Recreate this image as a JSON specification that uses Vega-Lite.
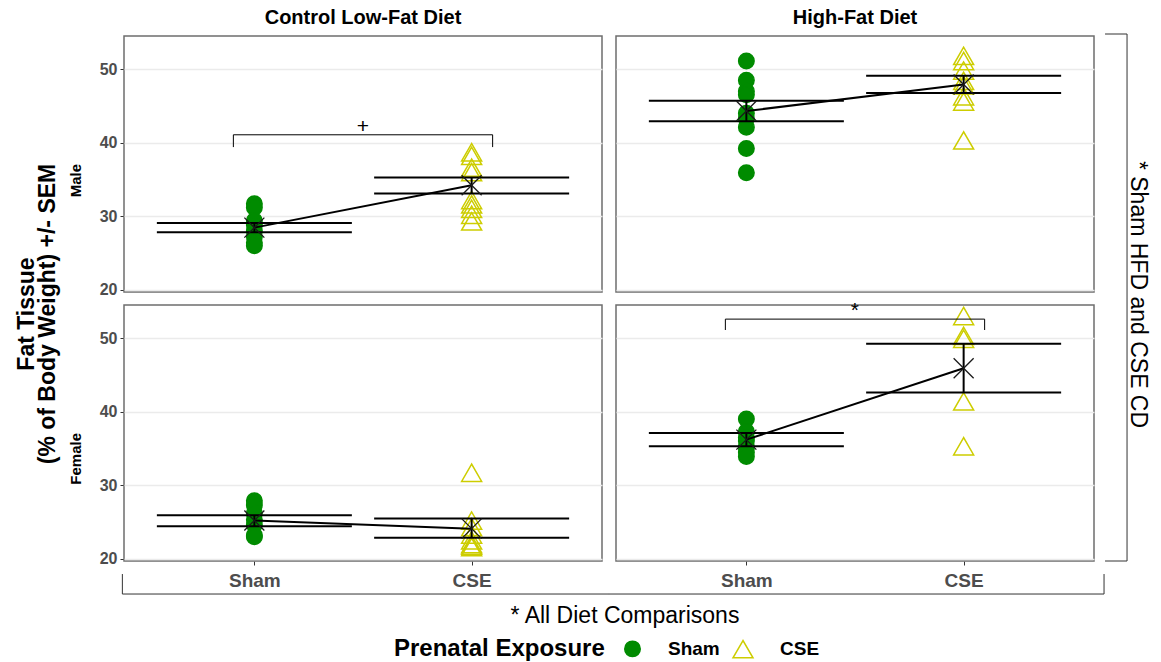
{
  "$schema": "https://vega.github.io/schema/vega-lite/v6.json",
  "padding": {"left": 15, "top": 8, "right": 5, "bottom": 5},
  "background": "white",
  "bounds": "flush",
  "data": {"values": [
    {"kind":"pt","sex":"Male","diet":"Control Low-Fat Diet","exposure":"Sham","value":31.7},
    {"kind":"pt","sex":"Male","diet":"Control Low-Fat Diet","exposure":"Sham","value":31.2},
    {"kind":"pt","sex":"Male","diet":"Control Low-Fat Diet","exposure":"Sham","value":29.4},
    {"kind":"pt","sex":"Male","diet":"Control Low-Fat Diet","exposure":"Sham","value":28.8},
    {"kind":"pt","sex":"Male","diet":"Control Low-Fat Diet","exposure":"Sham","value":28.0},
    {"kind":"pt","sex":"Male","diet":"Control Low-Fat Diet","exposure":"Sham","value":27.2},
    {"kind":"pt","sex":"Male","diet":"Control Low-Fat Diet","exposure":"Sham","value":26.4},
    {"kind":"pt","sex":"Male","diet":"Control Low-Fat Diet","exposure":"Sham","value":26.0},
    {"kind":"pt","sex":"Male","diet":"Control Low-Fat Diet","exposure":"CSE","value":38.7},
    {"kind":"pt","sex":"Male","diet":"Control Low-Fat Diet","exposure":"CSE","value":38.2},
    {"kind":"pt","sex":"Male","diet":"Control Low-Fat Diet","exposure":"CSE","value":36.6},
    {"kind":"pt","sex":"Male","diet":"Control Low-Fat Diet","exposure":"CSE","value":36.0},
    {"kind":"pt","sex":"Male","diet":"Control Low-Fat Diet","exposure":"CSE","value":32.2},
    {"kind":"pt","sex":"Male","diet":"Control Low-Fat Diet","exposure":"CSE","value":31.6},
    {"kind":"pt","sex":"Male","diet":"Control Low-Fat Diet","exposure":"CSE","value":31.0},
    {"kind":"pt","sex":"Male","diet":"Control Low-Fat Diet","exposure":"CSE","value":30.2},
    {"kind":"pt","sex":"Male","diet":"Control Low-Fat Diet","exposure":"CSE","value":29.3},
    {"kind":"pt","sex":"Male","diet":"High-Fat Diet","exposure":"Sham","value":51.1},
    {"kind":"pt","sex":"Male","diet":"High-Fat Diet","exposure":"Sham","value":48.5},
    {"kind":"pt","sex":"Male","diet":"High-Fat Diet","exposure":"Sham","value":47.0},
    {"kind":"pt","sex":"Male","diet":"High-Fat Diet","exposure":"Sham","value":46.5},
    {"kind":"pt","sex":"Male","diet":"High-Fat Diet","exposure":"Sham","value":44.0},
    {"kind":"pt","sex":"Male","diet":"High-Fat Diet","exposure":"Sham","value":43.3},
    {"kind":"pt","sex":"Male","diet":"High-Fat Diet","exposure":"Sham","value":42.1},
    {"kind":"pt","sex":"Male","diet":"High-Fat Diet","exposure":"Sham","value":39.2},
    {"kind":"pt","sex":"Male","diet":"High-Fat Diet","exposure":"Sham","value":35.9},
    {"kind":"pt","sex":"Male","diet":"High-Fat Diet","exposure":"CSE","value":51.8},
    {"kind":"pt","sex":"Male","diet":"High-Fat Diet","exposure":"CSE","value":51.1},
    {"kind":"pt","sex":"Male","diet":"High-Fat Diet","exposure":"CSE","value":49.8},
    {"kind":"pt","sex":"Male","diet":"High-Fat Diet","exposure":"CSE","value":48.4},
    {"kind":"pt","sex":"Male","diet":"High-Fat Diet","exposure":"CSE","value":47.8},
    {"kind":"pt","sex":"Male","diet":"High-Fat Diet","exposure":"CSE","value":46.3},
    {"kind":"pt","sex":"Male","diet":"High-Fat Diet","exposure":"CSE","value":45.6},
    {"kind":"pt","sex":"Male","diet":"High-Fat Diet","exposure":"CSE","value":40.3},
    {"kind":"pt","sex":"Female","diet":"Control Low-Fat Diet","exposure":"Sham","value":27.9},
    {"kind":"pt","sex":"Female","diet":"Control Low-Fat Diet","exposure":"Sham","value":27.3},
    {"kind":"pt","sex":"Female","diet":"Control Low-Fat Diet","exposure":"Sham","value":26.2},
    {"kind":"pt","sex":"Female","diet":"Control Low-Fat Diet","exposure":"Sham","value":25.3},
    {"kind":"pt","sex":"Female","diet":"Control Low-Fat Diet","exposure":"Sham","value":24.6},
    {"kind":"pt","sex":"Female","diet":"Control Low-Fat Diet","exposure":"Sham","value":23.2},
    {"kind":"pt","sex":"Female","diet":"Control Low-Fat Diet","exposure":"Sham","value":23.0},
    {"kind":"pt","sex":"Female","diet":"Control Low-Fat Diet","exposure":"CSE","value":31.7},
    {"kind":"pt","sex":"Female","diet":"Control Low-Fat Diet","exposure":"CSE","value":25.2},
    {"kind":"pt","sex":"Female","diet":"Control Low-Fat Diet","exposure":"CSE","value":24.3},
    {"kind":"pt","sex":"Female","diet":"Control Low-Fat Diet","exposure":"CSE","value":23.3},
    {"kind":"pt","sex":"Female","diet":"Control Low-Fat Diet","exposure":"CSE","value":22.5},
    {"kind":"pt","sex":"Female","diet":"Control Low-Fat Diet","exposure":"CSE","value":22.0},
    {"kind":"pt","sex":"Female","diet":"Control Low-Fat Diet","exposure":"CSE","value":21.8},
    {"kind":"pt","sex":"Female","diet":"Control Low-Fat Diet","exposure":"CSE","value":21.6},
    {"kind":"pt","sex":"Female","diet":"High-Fat Diet","exposure":"Sham","value":39.0},
    {"kind":"pt","sex":"Female","diet":"High-Fat Diet","exposure":"Sham","value":37.3},
    {"kind":"pt","sex":"Female","diet":"High-Fat Diet","exposure":"Sham","value":36.5},
    {"kind":"pt","sex":"Female","diet":"High-Fat Diet","exposure":"Sham","value":36.0},
    {"kind":"pt","sex":"Female","diet":"High-Fat Diet","exposure":"Sham","value":35.2},
    {"kind":"pt","sex":"Female","diet":"High-Fat Diet","exposure":"Sham","value":34.5},
    {"kind":"pt","sex":"Female","diet":"High-Fat Diet","exposure":"Sham","value":33.9},
    {"kind":"pt","sex":"Female","diet":"High-Fat Diet","exposure":"CSE","value":53.0},
    {"kind":"pt","sex":"Female","diet":"High-Fat Diet","exposure":"CSE","value":50.3},
    {"kind":"pt","sex":"Female","diet":"High-Fat Diet","exposure":"CSE","value":49.9},
    {"kind":"pt","sex":"Female","diet":"High-Fat Diet","exposure":"CSE","value":41.4},
    {"kind":"pt","sex":"Female","diet":"High-Fat Diet","exposure":"CSE","value":35.3},
    {"kind":"sum","sex":"Male","diet":"Control Low-Fat Diet","exposure":"Sham","mean":28.45,"lo":27.81,"hi":29.07},
    {"kind":"sum","sex":"Male","diet":"Control Low-Fat Diet","exposure":"CSE","mean":34.2,"lo":33.09,"hi":35.25},
    {"kind":"sum","sex":"Male","diet":"High-Fat Diet","exposure":"Sham","mean":44.3,"lo":42.91,"hi":45.71},
    {"kind":"sum","sex":"Male","diet":"High-Fat Diet","exposure":"CSE","mean":47.9,"lo":46.75,"hi":49.09},
    {"kind":"sum","sex":"Female","diet":"Control Low-Fat Diet","exposure":"Sham","mean":25.2,"lo":24.44,"hi":25.93},
    {"kind":"sum","sex":"Female","diet":"Control Low-Fat Diet","exposure":"CSE","mean":24.1,"lo":22.86,"hi":25.48},
    {"kind":"sum","sex":"Female","diet":"High-Fat Diet","exposure":"Sham","mean":36.2,"lo":35.29,"hi":37.11},
    {"kind":"sum","sex":"Female","diet":"High-Fat Diet","exposure":"CSE","mean":45.9,"lo":42.62,"hi":49.23},
    {"kind":"sig","sex":"Male","diet":"Control Low-Fat Diet","ybar":41.07,"yleg":39.4,"label":"+"},
    {"kind":"sig","sex":"Female","diet":"High-Fat Diet","ybar":52.58,"yleg":51.1,"label":"*"},
    {"kind":"frame","sex":"Female","diet":"Control Low-Fat Diet","ytop":17.93,"ybot":15.21},
    {"kind":"frame","sex":"Female","diet":"High-Fat Diet","ytop":17.93,"ybot":15.21},
    {"kind":"side","sex":"Male","diet":"High-Fat Diet","ytop":54.77,"ybot":18.75},
    {"kind":"side","sex":"Female","diet":"High-Fat Diet","ytop":55.32,"ybot":19.7}
  ]},
  "facet": {
    "row": {"field": "sex", "type": "nominal", "sort": ["Male", "Female"],
      "title": ["Fat Tissue", "(% of Body Weight) +/- SEM"],
      "header": {"labelOrient": "left", "labelAngle": -90, "labelAlign": "right", "labelFontSize": 15, "labelFontWeight": "bold", "labelColor": "black", "labelPadding": 8,
        "titleOrient": "left", "titleAngle": -90, "titleFontSize": 23, "titleFontWeight": "bold", "titleColor": "black", "titleLineHeight": 21, "titlePadding": -24}},
    "column": {"field": "diet", "type": "nominal", "sort": ["Control Low-Fat Diet", "High-Fat Diet"],
      "title": "* All Diet Comparisons",
      "header": {"labelOrient": "top", "labelFontSize": 20, "labelFontWeight": "bold", "labelColor": "black", "labelPadding": 8,
        "titleOrient": "bottom", "titleFontSize": 23, "titleFontWeight": "normal", "titleColor": "black", "titlePadding": 5}}
  },
  "spacing": {"row": 13, "column": 14},
  "title": {"text": "* Sham HFD and CSE CD", "orient": "right", "angle": 90, "anchor": "middle", "fontSize": 23, "fontWeight": "normal", "color": "black", "offset": -2, "dx": -40},
  "spec": {
    "width": 478,
    "height": 256,
    "encoding": {
      "x": {"field": "exposure", "type": "nominal", "scale": {"type": "point", "padding": 0.6, "domain": ["Sham", "CSE"]}, "title": null,
        "axis": {"title": null, "labelFontSize": 19, "labelFontWeight": "bold", "labelColor": "#4D4D4D", "labelAngle": 0, "grid": false, "ticks": true, "tickSize": 4, "tickColor": "#333333", "domain": false, "labelPadding": 6}}
    },
    "layer": [
      {
        "transform": [{"filter": "datum.kind === 'pt'"}],
        "mark": {"type": "point", "filled": false, "strokeWidth": 1.5, "opacity": 1},
        "encoding": {
          "y": {"field": "value", "type": "quantitative", "scale": {"domain": [19.7, 54.5], "nice": false, "zero": false}, "title": null,
            "axis": {"title": null, "values": [20, 30, 40, 50], "labelFontSize": 16, "labelFontWeight": "bold", "labelColor": "#4D4D4D", "grid": true, "gridColor": "#EBEBEB", "gridWidth": 1.5, "tickSize": 4, "tickColor": "#333333", "domain": false, "labelPadding": 3}},
          "stroke": {"field": "exposure", "type": "nominal", "scale": {"domain": ["Sham", "CSE"], "range": ["#008B00", "#CDCD00"]}, "title": "Prenatal Exposure"},
          "fill": {"field": "exposure", "type": "nominal", "scale": {"domain": ["Sham", "CSE"], "range": ["#008B00", "transparent"]}, "title": "Prenatal Exposure"},
          "shape": {"field": "exposure", "type": "nominal", "scale": {"domain": ["Sham", "CSE"], "range": ["circle", "triangle-up"]}, "title": "Prenatal Exposure"},
          "size": {"field": "exposure", "type": "nominal", "scale": {"domain": ["Sham", "CSE"], "range": [240, 400]}, "title": "Prenatal Exposure"}
        }
      },
      {
        "transform": [{"filter": "datum.kind === 'sum'"}],
        "mark": {"type": "line", "color": "black", "strokeWidth": 2},
        "encoding": {"y": {"field": "mean", "type": "quantitative"}}
      },
      {
        "transform": [{"filter": "datum.kind === 'sum'"}],
        "mark": {"type": "rule", "color": "black", "strokeWidth": 2},
        "encoding": {"y": {"field": "lo", "type": "quantitative"}, "y2": {"field": "hi"}}
      },
      {
        "transform": [{"filter": "datum.kind === 'sum'"}],
        "mark": {"type": "tick", "orient": "horizontal", "color": "black", "opacity": 1, "size": 195, "thickness": 2},
        "encoding": {"y": {"field": "lo", "type": "quantitative"}}
      },
      {
        "transform": [{"filter": "datum.kind === 'sum'"}],
        "mark": {"type": "tick", "orient": "horizontal", "color": "black", "opacity": 1, "size": 195, "thickness": 2},
        "encoding": {"y": {"field": "hi", "type": "quantitative"}}
      },
      {
        "transform": [{"filter": "datum.kind === 'sum'"}],
        "mark": {"type": "point", "shape": "M-1,-1L1,1M-1,1L1,-1", "size": 400, "stroke": "#1A1A1A", "strokeWidth": 1.3, "filled": false, "opacity": 1},
        "encoding": {"y": {"field": "mean", "type": "quantitative"}}
      },
      {
        "transform": [{"filter": "datum.kind === 'sig'"}],
        "mark": {"type": "rule", "color": "black", "strokeWidth": 1, "xOffset": -21, "x2Offset": 21},
        "encoding": {"x": {"datum": "Sham", "type": "nominal"}, "x2": {"datum": "CSE"}, "y": {"field": "ybar", "type": "quantitative"}}
      },
      {
        "transform": [{"filter": "datum.kind === 'sig'"}],
        "mark": {"type": "rule", "color": "black", "strokeWidth": 1, "xOffset": -21},
        "encoding": {"x": {"datum": "Sham", "type": "nominal"}, "y": {"field": "ybar", "type": "quantitative"}, "y2": {"field": "yleg"}}
      },
      {
        "transform": [{"filter": "datum.kind === 'sig'"}],
        "mark": {"type": "rule", "color": "black", "strokeWidth": 1, "xOffset": 21},
        "encoding": {"x": {"datum": "CSE", "type": "nominal"}, "y": {"field": "ybar", "type": "quantitative"}, "y2": {"field": "yleg"}}
      },
      {
        "transform": [{"filter": "datum.kind === 'sig'"}],
        "mark": {"type": "text", "fontSize": 21, "fill": "#000000", "opacity": 1, "baseline": "alphabetic", "dy": -2, "xOffset": 108.6},
        "encoding": {"x": {"datum": "Sham", "type": "nominal"}, "y": {"field": "ybar", "type": "quantitative"}, "text": {"field": "label"}}
      },
      {
        "transform": [{"filter": "datum.kind === 'frame' && datum.diet === 'Control Low-Fat Diet'"}],
        "mark": {"type": "rule", "color": "#333333", "strokeWidth": 1, "xOffset": -132, "x2Offset": 137.4},
        "encoding": {"x": {"datum": "Sham", "type": "nominal"}, "x2": {"datum": "CSE"}, "y": {"field": "ybot", "type": "quantitative"}}
      },
      {
        "transform": [{"filter": "datum.kind === 'frame' && datum.diet === 'Control Low-Fat Diet'"}],
        "mark": {"type": "rule", "color": "#333333", "strokeWidth": 1, "xOffset": -132},
        "encoding": {"x": {"datum": "Sham", "type": "nominal"}, "y": {"field": "ytop", "type": "quantitative"}, "y2": {"field": "ybot"}}
      },
      {
        "transform": [{"filter": "datum.kind === 'frame' && datum.diet === 'High-Fat Diet'"}],
        "mark": {"type": "rule", "color": "#333333", "strokeWidth": 1, "xOffset": -137.4, "x2Offset": 140.4},
        "encoding": {"x": {"datum": "Sham", "type": "nominal"}, "x2": {"datum": "CSE"}, "y": {"field": "ybot", "type": "quantitative"}}
      },
      {
        "transform": [{"filter": "datum.kind === 'frame' && datum.diet === 'High-Fat Diet'"}],
        "mark": {"type": "rule", "color": "#333333", "strokeWidth": 1, "xOffset": 140.4},
        "encoding": {"x": {"datum": "CSE", "type": "nominal"}, "y": {"field": "ytop", "type": "quantitative"}, "y2": {"field": "ybot"}}
      },
      {
        "transform": [{"filter": "datum.kind === 'side'"}],
        "mark": {"type": "rule", "color": "#333333", "strokeWidth": 1, "xOffset": 163.4},
        "encoding": {"x": {"datum": "CSE", "type": "nominal"}, "y": {"field": "ytop", "type": "quantitative"}, "y2": {"field": "ybot"}}
      },
      {
        "transform": [{"filter": "datum.kind === 'side' && datum.sex === 'Male'"}],
        "mark": {"type": "rule", "color": "#333333", "strokeWidth": 1, "xOffset": 141.4, "x2Offset": 163.4},
        "encoding": {"x": {"datum": "CSE", "type": "nominal"}, "x2": {"datum": "CSE"}, "y": {"field": "ytop", "type": "quantitative"}}
      },
      {
        "transform": [{"filter": "datum.kind === 'side' && datum.sex === 'Female'"}],
        "mark": {"type": "rule", "color": "#333333", "strokeWidth": 1, "xOffset": 141.4, "x2Offset": 163.4},
        "encoding": {"x": {"datum": "CSE", "type": "nominal"}, "x2": {"datum": "CSE"}, "y": {"field": "ybot", "type": "quantitative"}}
      }
    ]
  },
  "config": {
    "font": "Liberation Sans",
    "view": {"stroke": "#6E6E6E", "strokeWidth": 1.5},
    "legend": {
      "orient": "none", "legendX": 270, "legendY": 602, "direction": "horizontal", "titleOrient": "left", "titleLimit": 400,
      "titleFontSize": 24, "titleFontWeight": "bold", "titleColor": "black", "titlePadding": 18,
      "labelFontSize": 19, "labelFontWeight": "bold", "labelColor": "black", "columnPadding": 10, "symbolStrokeWidth": 1.5, "labelOffset": 26
    }
  }
}
